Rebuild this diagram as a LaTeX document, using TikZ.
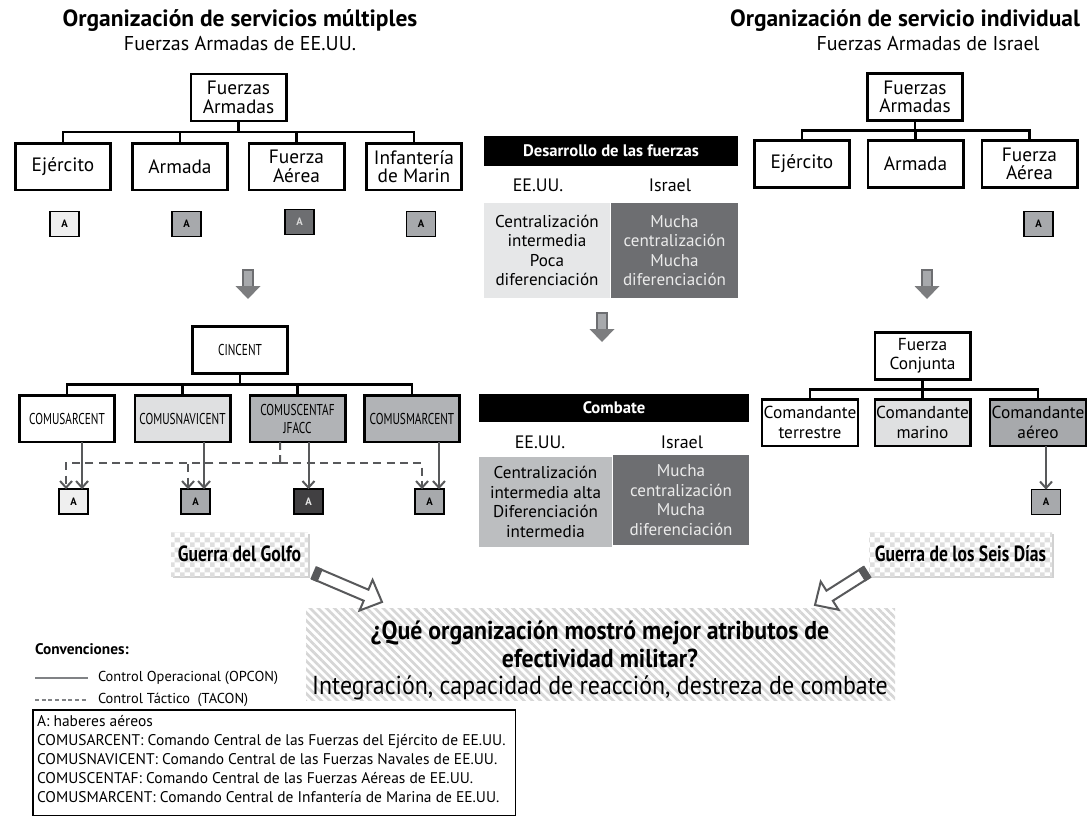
\documentclass[tikz,border=0pt]{standalone}
\usepackage{fontspec}
\setmainfont{PT Sans}
\newfontfamily\condfont[FakeStretch=0.72]{PT Sans}
\newfontfamily\gfont[FakeStretch=0.8]{PT Sans}
\newfontfamily\qfont[FakeStretch=0.92]{PT Sans}
\usetikzlibrary{arrows.meta,patterns.meta,shadows,calc}
\newcommand\setfs[2]{\fontsize{#1}{#2}\selectfont}
\definecolor{dkgray}{HTML}{58595B}
\definecolor{cellA}{HTML}{E6E7E8}
\definecolor{cellB}{HTML}{6D6E71}
\definecolor{cellC}{HTML}{BCBEC0}
\definecolor{agray}{HTML}{A7A9AC}
\definecolor{alight}{HTML}{EFEFEF}
\definecolor{adark}{HTML}{6D6E71}
\definecolor{adarkest}{HTML}{414042}
\definecolor{navfill}{HTML}{DFE0E1}
\definecolor{cenfill}{HTML}{B1B3B6}
\definecolor{legline}{HTML}{808285}
\tikzdeclarepattern{
  name=checks,
  type=colored,
  bottom left={(0pt,0pt)},
  top right={(7.5pt,7.5pt)},
  tile size={(7.5pt,7.5pt)},
  code={
    \fill[black!13] (0pt,0pt) rectangle (3.75pt,3.75pt);
    \fill[black!13] (3.75pt,3.75pt) rectangle (7.5pt,7.5pt);
  }
}
\newcommand\hollowarr[2]{%
  \draw[hollowst] let \p1=(#1), \p2=(#2), \n1={atan2(\y2-\y1,\x2-\x1)}, \n2={veclen(\x2-\x1,\y2-\y1)} in
    ($(\p1)+({\n1+90}:4.5pt)$) -- ($(\p1)+(\n1:{\n2-13pt})+({\n1+90}:4.5pt)$)
    -- ($(\p1)+(\n1:{\n2-13pt})+({\n1+90}:12.5pt)$) -- (\p2)
    -- ($(\p1)+(\n1:{\n2-13pt})+({\n1-90}:12.5pt)$) -- ($(\p1)+(\n1:{\n2-13pt})+({\n1-90}:4.5pt)$)
    -- ($(\p1)+({\n1-90}:4.5pt)$) -- cycle;
  \fill[dkgray] let \p1=(#1), \p2=(#2), \n1={atan2(\y2-\y1,\x2-\x1)} in
    ($(\p1)+({\n1+90}:5.3pt)$) -- ($(\p1)+(\n1:5pt)+({\n1+90}:5.3pt)$)
    -- ($(\p1)+(\n1:5pt)+({\n1-90}:5.3pt)$) -- ($(\p1)+({\n1-90}:5.3pt)$) -- cycle;
}
\begin{document}
\begin{tikzpicture}[x=0.75pt,y=-0.75pt,
  every node/.style={inner sep=0pt, outer sep=0pt},
  titlef/.style={font=\bfseries\setfs{17.6}{20}},
  subf/.style={font=\setfs{15}{17}},
  obox/.style={draw, line width=2pt, fill=white, minimum width=71.5pt, minimum height=35pt, align=center, font=\setfs{14.5}{14}},
  kbox/.style={obox, font=\setfs{13}{14.5}},
  cbox/.style={obox, font=\condfont\setfs{11.8}{13.5}},
  abox/.style={draw, line width=1.1pt, minimum width=21.5pt, minimum height=18.5pt, font=\bfseries\setfs{8}{8}},
  bus/.style={line width=2pt},
  opc/.style={draw=dkgray, line width=1.5pt, -{Straight Barb[length=5pt,width=9pt]}},
  tacline/.style={draw=dkgray, line width=1.5pt, dash pattern=on 6pt off 4pt},
  tac/.style={tacline, -{Straight Barb[length=5pt,width=9pt]}},
  hdr/.style={fill=black, text=white, font=\bfseries\setfs{12.5}{14}},
  lbl/.style={font=\setfs{13.5}{14}},
  cell/.style={align=center, font=\setfs{12.8}{14.6}},
  guerra/.style={drop shadow={shadow xshift=1.8pt, shadow yshift=-1.8pt, opacity=0.3, fill=black!60},
    preaction={fill=white}, pattern=checks, font=\gfont\bfseries\setfs{16.5}{17}},
  hollowst/.style={draw=dkgray, fill=white, line width=1.5pt, line join=miter},
  blkshaft/.style={fill=agray, draw=cellB, line width=0.9pt},
  blkhead/.style={fill=cellB!90},
  blkdown/.pic={
    \filldraw[blkshaft] (-5,0) rectangle (5,17);
    \fill[blkhead] (-12.5,16) -- (12.5,16) -- (0,29) -- cycle;
  },
  legf/.style={font=\setfs{10.8}{15}},
  legboxf/.style={font=\setfs{11.6}{14.4}},
]
\useasboundingbox (0,0) rectangle (1088,817);

% ---------- titles
\node[titlef] (tl) at (240,21) {Organización de servicios múltiples};
\node[subf] (sl) at (240,44) {Fuerzas Armadas de EE.UU.};
\node[titlef] (tr) at (905,21) {Organización de servicio individual};
\node[subf] (sr) at (928,44) {Fuerzas Armadas de Israel};

% ---------- left top organisation
\node[obox] (lfa) at (238.5,97.5) {Fuerzas\\Armadas};
\node[obox] (lej) at (63,166.5) {Ejército};
\node[obox] (lar) at (180,166.5) {Armada};
\node[obox] (lfu) at (296.5,166.5) {Fuerza\\Aérea};
\node[obox] (lin) at (414,166.5) {Infantería\\de Marin};
\coordinate (lb) at ($(lfa.south)!0.5!(lfa.south |- lej.north)$);
\draw[bus] (lej.north) |- (lb) -| (lin.north);
\draw[bus] (lfa.south) -- (lb);
\draw[bus] (lar.north) -- (lar.north |- lb);
\draw[bus] (lfu.north) -- (lfu.north |- lb);
\node[abox, fill=alight] (la1) at (64.5,224) {A};
\node[abox, fill=agray] (la2) at (186.5,224) {A};
\node[abox, fill=adark, text=black!15] (la3) at (299.5,222) {A};
\node[abox, fill=agray] (la4) at (421,224) {A};
\pic (dnl) at (248,270) {blkdown};

% ---------- left bottom organisation
\node[cbox] (cin) at (240,350) {CINCENT};
\node[cbox] (c1) at (67,418.5) {COMUSARCENT};
\node[cbox, fill=navfill] (c2) at (182.5,418.5) {COMUSNAVICENT};
\node[cbox, fill=cenfill] (c3) at (297.5,418.5) {COMUSCENTAF\\JFACC};
\node[cbox, fill=cenfill] (c4) at (412,418.5) {COMUSMARCENT};
\coordinate (cb) at ($(cin.south)!0.5!(cin.south |- c1.north)$);
\draw[bus] (c1.north) |- (cb) -| (c4.north);
\draw[bus] (cin.south) -- (cb);
\draw[bus] (c2.north) -- (c2.north |- cb);
\draw[bus] (c3.north) -- (c3.north |- cb);
\node[abox, fill=alight] (a1) at (73.5,501.5) {A};
\node[abox, fill=agray] (a2) at (195.5,501.5) {A};
\node[abox, fill=adarkest, text=black!10] (a3) at (308.5,501.5) {A};
\node[abox, fill=agray] (a4) at (429.5,501.5) {A};
% operational control
\coordinate (s1) at ([xshift=6.4pt]a1.north);
\coordinate (s2) at ([xshift=6.4pt]a2.north);
\coordinate (s3) at (a3.north);
\coordinate (s4) at ([xshift=7.1pt]a4.north);
\draw[opc] (s1 |- c1.south) -- (s1);
\draw[opc] (s2 |- c2.south) -- (s2);
\draw[opc] (s3 |- c3.south) -- (s3);
\draw[opc] (s4 |- c4.south) -- (s4);
% tactical control
\coordinate (dsrc) at ([xshift=-13.1pt]c3.south);
\coordinate (dh) at (280,463);
\coordinate (d1) at ([xshift=-5.6pt]a1.north);
\coordinate (d2) at ([xshift=-5.6pt]a2.north);
\coordinate (d4) at ([xshift=-5.6pt]a4.north);
\draw[tacline] (dsrc) -- (dh);
\draw[tac] (dh) -| (d1);
\draw[tac] (dh) -| (d2);
\draw[tac] (dh) -| (d4);

% ---------- right top organisation
\node[obox] (rfa) at (915,97) {Fuerzas\\Armadas};
\node[obox] (rej) at (802,164) {Ejército};
\node[obox] (rar) at (915.5,164) {Armada};
\node[obox] (rfu) at (1029.5,164) {Fuerza\\Aérea};
\coordinate (rb) at ($(rfa.south)!0.5!(rfa.south |- rej.north)$);
\draw[bus] (rej.north) |- (rb) -| (rfu.north);
\draw[bus] (rfa.south) -- (rb);
\draw[bus] (rar.north) -- (rar.north |- rb);
\node[abox, fill=agray] (ra1) at (1038.5,224) {A};
\pic (dnr) at (927,270) {blkdown};

% ---------- right bottom organisation
\node[kbox] (fc) at (922.5,356) {Fuerza\\Conjunta};
\node[kbox, minimum width=72pt] (k1) at (810,422.5) {Comandante\\terrestre};
\node[kbox, fill=navfill] (k2) at (922.5,422.5) {Comandante\\marino};
\node[kbox, fill=agray, minimum width=72pt] (k3) at (1038,422.5) {Comandante\\aéreo};
\coordinate (kb) at ($(fc.south)!0.5!(fc.south |- k1.north)$);
\draw[bus] (k1.north) |- (kb) -| (k3.north);
\draw[bus] (fc.south) -- (kb);
\draw[bus] (k2.north) -- (k2.north |- kb);
\node[abox, fill=agray] (ka) at (1046,502) {A};
\draw[opc] (ka.north |- k3.south) -- (ka.north);

% ---------- middle tables
\node[hdr, minimum width=190.5pt, minimum height=22.5pt] (t1h) at (611,151) {Desarrollo de las fuerzas};
\node[lbl] (t1u) at (538,185) {EE.UU.};
\node[lbl] (t1i) at (670,185) {Israel};
\node[cell, fill=cellA, minimum width=94.5pt, minimum height=71.25pt] (t1l) at (547,250.5) {Centralización\\intermedia\\Poca\\diferenciación};
\node[cell, fill=cellB, text=black!8, minimum width=95.25pt, minimum height=71.25pt] (t1r) at (674.5,250.5) {Mucha\\centralización\\Mucha\\diferenciación};
\pic (dnm) at (602,313) {blkdown};

\node[hdr, minimum width=202.5pt, minimum height=21pt] (t2h) at (614,408) {Combate};
\node[lbl] (t2u) at (540,442) {EE.UU.};
\node[lbl] (t2i) at (682,442) {Israel};
\node[cell, fill=cellC, minimum width=99.75pt, minimum height=67.5pt] (t2l) at (545.5,502) {Centralización\\intermedia alta\\Diferenciación\\intermedia};
\node[cell, fill=cellB, text=black!8, minimum width=102pt, minimum height=67.5pt] (t2r) at (681,500) {Mucha\\centralización\\Mucha\\diferenciación};

% ---------- wars and question
\node[guerra, minimum width=102.75pt, minimum height=33pt] (golfo) at (239.5,554) {Guerra del Golfo};
\node[guerra, minimum width=137.25pt, minimum height=33pt] (seis) at (960.5,554) {Guerra de los Seis Días};
\node[preaction={fill=white}, pattern={Lines[angle=-45,distance=4.3pt,line width=2pt]}, pattern color=black!16,
      minimum width=441.75pt, minimum height=69pt] (q) at (600.5,654) {};
\node[align=center, font=\qfont\setfs{19.5}{20.3}] (qt) at (600,660.5)
  {{\bfseries\setfs{19.4}{20.3}¿Qué organización mostró mejor atributos de}\\ {\bfseries\setfs{19.4}{20.3}efectividad militar?}\\Integración, capacidad de reacción, destreza de combate};
\coordinate (ga1) at (314,573);
\coordinate (ga2) at (382,602);
\coordinate (gb1) at (867,572);
\coordinate (gb2) at (815,605);
\hollowarr{ga1}{ga2}
\hollowarr{gb1}{gb2}

% ---------- legend
\node[anchor=west, font=\bfseries\setfs{11.5}{13}] (conv) at (35,649) {Convenciones:};
\coordinate (l1a) at (35,678);
\coordinate (l1b) at (88,678);
\coordinate (l2a) at (35,700);
\coordinate (l2b) at (88,700);
\draw[legline, line width=0.8pt] (l1a) -- (l1b);
\draw[legline, line width=0.8pt, dash pattern=on 3pt off 2pt] (l2a) -- (l2b);
\node[anchor=west, legf] (opl) at (98,678) {Control Operacional (OPCON)};
\node[anchor=west, legf] (tal) at (98,700) {Control Táctico\ \ (TACON)};
\node[draw, line width=0.8pt, anchor=north west, minimum width=362pt, minimum height=79pt] (legbox) at (33,710) {};
\node[anchor=north west, align=left, legboxf] (legtxt) at (37,715)
  {A: haberes aéreos\\
   COMUSARCENT: Comando Central de las Fuerzas del Ejército de EE.UU.\\
   COMUSNAVICENT: Comando Central de las Fuerzas Navales de EE.UU.\\
   COMUSCENTAF: Comando Central de las Fuerzas Aéreas de EE.UU.\\
   COMUSMARCENT: Comando Central de Infantería de Marina de EE.UU.};
\end{tikzpicture}
\end{document}
